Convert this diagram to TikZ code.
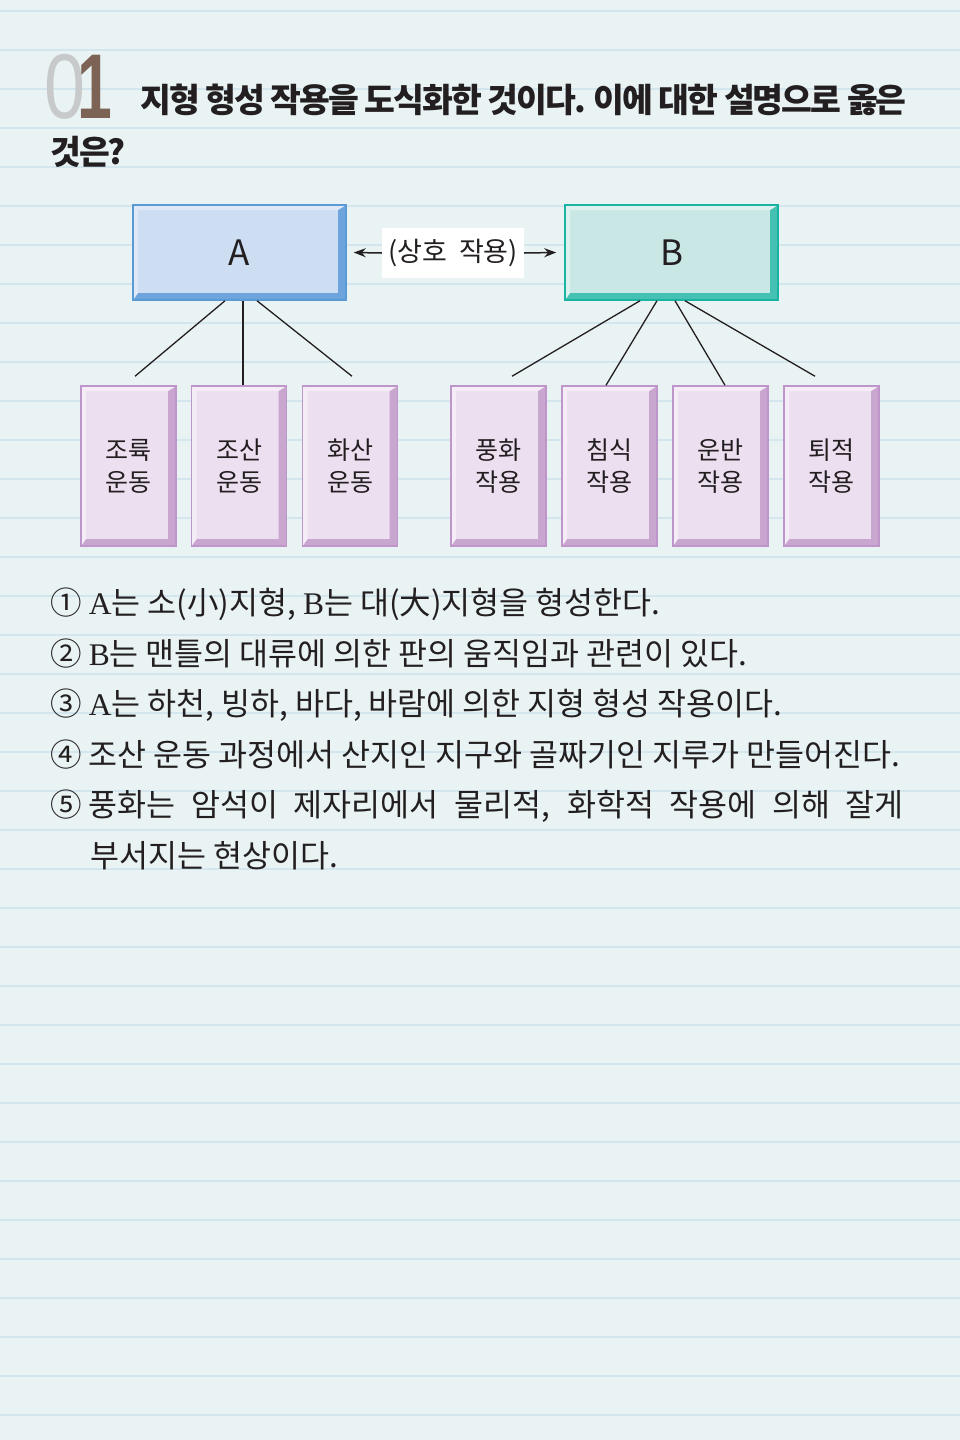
\documentclass[tikz,border=0pt]{standalone}
\usepackage{fontspec}
\usepackage{graphicx}
\setmainfont{Noto Sans CJK KR}
\newfontfamily\titlefont{Noto Sans CJK KR}[LetterSpace=-6]
\newfontfamily\numfont{Liberation Sans}
\newfontfamily\latfont{Liberation Serif}
\usetikzlibrary{arrows.meta}
\definecolor{paper}{HTML}{E9F3F4}
\definecolor{ruleblue}{HTML}{D3E6EE}
\definecolor{ink}{HTML}{231F20}
\definecolor{numgray}{HTML}{C8C9CA}
\definecolor{numbrown}{HTML}{7D6356}
\definecolor{Aline}{HTML}{5B9BD5}
\definecolor{Afill}{HTML}{CDDDF2}
\definecolor{Adark}{HTML}{6EA4DC}
\definecolor{Alight}{HTML}{DEE8F6}
\definecolor{Bline}{HTML}{1AB3A3}
\definecolor{Bfill}{HTML}{C9E7E5}
\definecolor{Bdark}{HTML}{45C1B3}
\definecolor{Blight}{HTML}{DDF1EF}
\definecolor{Pline}{HTML}{BF96C9}
\definecolor{Pfill}{HTML}{ECDFF0}
\definecolor{Pdark}{HTML}{C9A6D0}
\definecolor{Plight}{HTML}{F4ECF6}
\newcommand{\la}[1]{{\latfont #1}}
\tikzset{
    ruleline/.style={draw=ruleblue, line width=2pt},
    bevelbox/.style n args={4}{rectangle, draw=#1, fill=#2, line width=1.5pt, inner sep=0pt, text=ink,
        path picture={
            \fill[#3] (path picture bounding box.north east) -- (path picture bounding box.south east)
                -- (path picture bounding box.south west) -- ([xshift=5pt,yshift=7pt]path picture bounding box.south west)
                -- ([xshift=-8pt,yshift=7pt]path picture bounding box.south east)
                -- ([xshift=-8pt,yshift=-5pt]path picture bounding box.north east) -- cycle;
            \fill[#4] (path picture bounding box.north west) -- (path picture bounding box.north east)
                -- ([xshift=-8pt,yshift=-5pt]path picture bounding box.north east)
                -- ([xshift=5pt,yshift=-5pt]path picture bounding box.north west)
                -- ([xshift=5pt,yshift=7pt]path picture bounding box.south west)
                -- (path picture bounding box.south west) -- cycle;
        }},
    abox/.style={bevelbox={Aline}{Afill}{Adark}{Alight}, minimum width=213pt, minimum height=95pt, font=\fontsize{35pt}{35pt}\selectfont},
    bbox/.style={bevelbox={Bline}{Bfill}{Bdark}{Blight}, minimum width=213pt, minimum height=95pt, font=\fontsize{35pt}{35pt}\selectfont},
    pbox/.style={bevelbox={Pline}{Pfill}{Pdark}{Plight}, minimum width=95pt, minimum height=160pt, align=center, font=\fontsize{25pt}{32pt}\selectfont},
    link/.style={draw=ink, line width=1.3pt},
    arr/.style={draw=ink, line width=1.5pt, -{Stealth[length=12pt, width=9pt]}},
    opt/.style={anchor=base west, inner sep=0pt, text=ink, font=\fontsize{31.5pt}{31.5pt}\selectfont},
}
\begin{document}
\begin{tikzpicture}[x=1pt, y=-1pt]
    \useasboundingbox (0,0) rectangle (960,1440);
    \fill[paper] (0,0) rectangle (960,1440);
    \foreach \k in {0,...,36}
        \draw[ruleline] (0,{11+39*\k}) -- (960,{11+39*\k});

    \node[anchor=base west, inner sep=0pt, text=numgray, font=\numfont\fontsize{92pt}{92pt}\selectfont] (n0) at (44,118) {\scalebox{0.8}[1]{0}};
    \node[anchor=base west, inner sep=0pt, text=numbrown, font=\numfont\bfseries\fontsize{92pt}{92pt}\selectfont] (n1) at (77,118) {\scalebox{0.68}[1]{1}};
    \node[anchor=base west, inner sep=0pt, text=ink, font=\titlefont\bfseries\fontsize{33.5pt}{40pt}\selectfont] (q1) at (140,112) {지형 형성 작용을 도식화한 것이다. 이에 대한 설명으로 옳은};
    \node[anchor=base west, inner sep=0pt, text=ink, font=\titlefont\bfseries\fontsize{33.5pt}{40pt}\selectfont] (q2) at (50,164) {것은?};

    \node[abox] (A) at (239.5,252.5) {A};
    \node[bbox] (B) at (671.5,252.5) {B};
    \node[fill=white, minimum width=142pt, minimum height=50pt, inner sep=0pt, text=ink, font=\fontsize{27pt}{27pt}\selectfont] (mid) at (453,253) {(상호\ \ 작용)};
    \draw[arr] (mid.west) -- ([xshift=7pt]A.east);
    \draw[arr] (mid.east) -- ([xshift=-8pt]B.west);

    \node[pbox] (p1) at (128.5,466) {조륙\\운동};
    \node[pbox] (p2) at (239,466) {조산\\운동};
    \node[pbox] (p3) at (350,466) {화산\\운동};
    \node[pbox] (r1) at (498.5,466) {풍화\\작용};
    \node[pbox] (r2) at (609.5,466) {침식\\작용};
    \node[pbox] (r3) at (720.5,466) {운반\\작용};
    \node[pbox] (r4) at (831.5,466) {퇴적\\작용};

    \draw[link] ([xshift=-14.5pt]A.south) -- ([xshift=6.5pt,yshift=9pt]p1.north);
    \draw[link] ([xshift=3.5pt]A.south) -- ([xshift=4pt]p2.north);
    \draw[link] ([xshift=17.5pt]A.south) -- ([xshift=2pt,yshift=9pt]p3.north);
    \draw[link] ([xshift=-31.5pt]B.south) -- ([xshift=13.5pt,yshift=9pt]r1.north);
    \draw[link] ([xshift=-14.5pt]B.south) -- ([xshift=-3.5pt]r2.north);
    \draw[link] ([xshift=3.5pt]B.south) -- ([xshift=4.5pt]r3.north);
    \draw[link] ([xshift=13.5pt]B.south) -- ([xshift=-16.5pt,yshift=9pt]r4.north);

    \node[opt] (o1) at (50,614) {① \la{A}는 소(小)지형, \la{B}는 대(大)지형을 형성한다.};
    \node[opt] (o2) at (50,665) {② \la{B}는 맨틀의 대류에 의한 판의 움직임과 관련이 있다.};
    \node[opt] (o3) at (50,715) {③ \la{A}는 하천, 빙하, 바다, 바람에 의한 지형 형성 작용이다.};
    \node[opt] (o4) at (50,766) {④ 조산 운동 과정에서 산지인 지구와 골짜기인 지루가 만들어진다.};
    \node[opt] (o5) at (50,816) {⑤ \makebox[815pt][s]{풍화는 암석이 제자리에서 물리적, 화학적 작용에 의해 잘게}};
    \node[opt] (o5b) at (90,867) {부서지는 현상이다.};
\end{tikzpicture}
\end{document}
